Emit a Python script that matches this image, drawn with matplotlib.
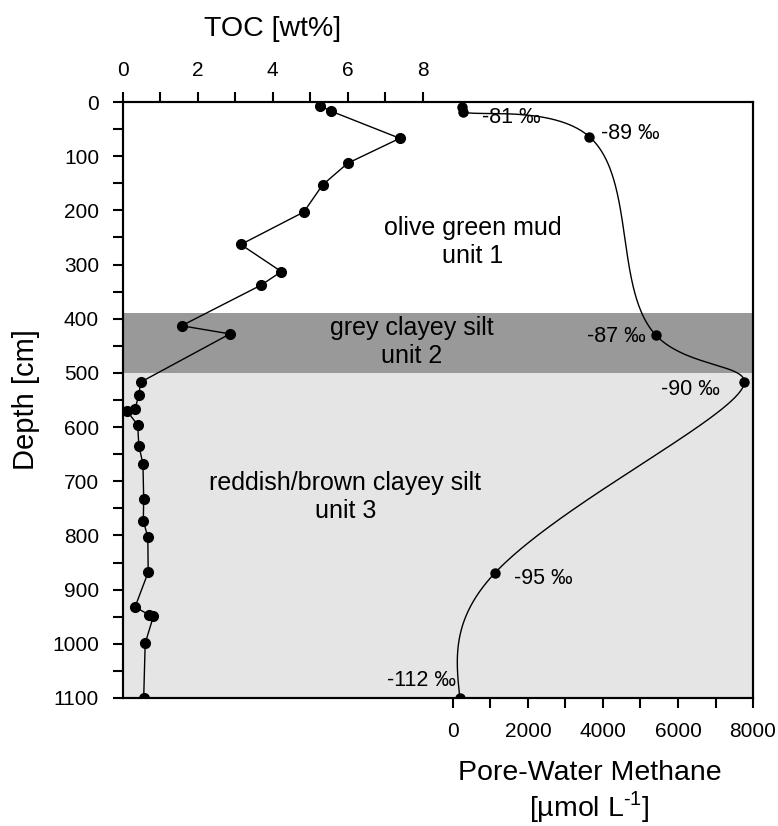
import numpy as np
import matplotlib
matplotlib.use("Agg")
import matplotlib.pyplot as plt

plt.rcParams["font.family"] = ["Liberation Sans", "DejaVu Sans"]
plt.rcParams["mathtext.fontset"] = "custom"
plt.rcParams["mathtext.rm"] = "Liberation Sans"

# TOC profile
toc_depth = [7, 17, 67, 113, 153, 203, 263, 313, 338, 413, 428, 517, 540, 567, 570,
             596, 634, 668, 732, 773, 803, 868, 932, 947, 949, 999, 1100]
toc_value = [5.26, 5.56, 7.39, 6.0, 5.33, 4.83, 3.15, 4.23, 3.69, 1.57, 2.86, 0.48, 0.43,
             0.33, 0.11, 0.40, 0.43, 0.54, 0.56, 0.55, 0.67, 0.68, 0.33, 0.71, 0.82, 0.60, 0.56]

# pore-water methane profile with d13C labels
ch4_depth = [10, 18, 64, 430, 516, 870, 1100]
ch4_value = [232, 275, 3636, 5405, 7769, 1111, 187]

iso_text = ["-81 ‰", "-89 ‰", "-87 ‰", "-90 ‰", "-95 ‰", "-112 ‰"]
iso_x = [765, 3950, 5150, 7120, 1635, 80]
iso_y = [28, 58, 433, 530, 879, 1067]
iso_ha = ["left", "left", "right", "right", "left", "right"]

units = ["olive green mud\nunit 1", "grey clayey silt\nunit 2", "reddish/brown clayey silt\nunit 3"]
unit_x = [0.555, 0.459, 0.353]
unit_y = [258, 443, 729]


def natural_spline(t, y, tt):
    n = len(t)
    h = np.diff(t)
    A = np.zeros((n, n))
    r = np.zeros(n)
    A[0, 0] = A[-1, -1] = 1
    for i in range(1, n - 1):
        A[i, i - 1] = h[i - 1]
        A[i, i] = 2 * (h[i - 1] + h[i])
        A[i, i + 1] = h[i]
        r[i] = 6 * ((y[i + 1] - y[i]) / h[i] - (y[i] - y[i - 1]) / h[i - 1])
    M = np.linalg.solve(A, r)
    out = np.empty_like(tt)
    for k, s in enumerate(tt):
        i = min(np.searchsorted(t, s, side="right") - 1, n - 2)
        a = t[i + 1] - s
        b = s - t[i]
        out[k] = (M[i] * a**3 + M[i + 1] * b**3) / (6 * h[i]) \
            + (y[i] / h[i] - M[i] * h[i] / 6) * a + (y[i + 1] / h[i] - M[i + 1] * h[i] / 6) * b
    return out


# smooth curve through methane points (centripetal spline in screen-like units)
u = np.array(ch4_value) / 1000 * 37.5
v = np.array(ch4_depth) * 0.5418
t = np.concatenate([[0], np.cumsum(np.hypot(np.diff(u), np.diff(v)) ** 0.5)])
tt = np.linspace(0, t[-1], 800)
curve_x = natural_spline(t, u, tt) / 37.5 * 1000
curve_y = natural_spline(t, v, tt) / 0.5418

fig = plt.figure(figsize=(7.78, 8.26), dpi=100)
ax = fig.add_axes([0.1577, 0.155, 0.8102, 0.7215])
ax.axhspan(390, 500, color="#999999", lw=0, zorder=0)
ax.axhspan(500, 1100, color="#e5e5e5", lw=0, zorder=0)

ax.plot(curve_x, curve_y, color="black", lw=1.0)
ax.plot(ch4_value, ch4_depth, "o", color="black", ms=6.5)
for s, x, y, ha in zip(iso_text, iso_x, iso_y, iso_ha):
    ax.text(x, y, s, ha=ha, va="center", fontsize=15.5)

ax.set_xlim(-8800, 8000)
ax.set_ylim(1100, 0)
ax.set_xticks(range(0, 8001, 1000))
ax.set_xticklabels([str(v) if v % 2000 == 0 else "" for v in range(0, 8001, 1000)])
ax.set_yticks(range(0, 1101, 50))
ax.set_yticklabels([str(v) if v % 100 == 0 else "" for v in range(0, 1101, 50)])
ax.tick_params(axis="x", direction="out", length=7, width=1.5, pad=10, labelsize=15)
ax.tick_params(axis="y", direction="out", length=7, width=1.5, pad=10, labelsize=15)
ax.set_ylabel("Depth [cm]", fontsize=21)
ax.yaxis.set_label_coords(-0.131, 0.5)
ax.set_xlabel("Pore-Water Methane\n[µmol L$^{\\text{-1}}$]", fontsize=20.5, linespacing=1.1)
ax.xaxis.set_label_coords(0.741, -0.104)

ax2 = ax.twiny()
ax2.plot(toc_value, toc_depth, "-o", color="black", lw=1.0, ms=7)
ax2.set_xlim(0, 630.3 / 37.5)
ax2.set_xticks(range(0, 9))
ax2.set_xticklabels([str(v) if v % 2 == 0 else "" for v in range(0, 9)])
ax2.tick_params(axis="x", direction="out", length=7, width=1.5, pad=9, labelsize=15)
ax2.set_xlabel("TOC [wt%]", fontsize=20.5)
ax2.xaxis.set_label_coords(0.238, 1.111)

for a in (ax, ax2):
    for sp in a.spines.values():
        sp.set_linewidth(1.5)

for s, x, y in zip(units, unit_x, unit_y):
    ax.text(x, y, s, transform=ax.get_yaxis_transform(), ha="center", va="center",
            fontsize=18, linespacing=1.2)

fig.savefig("out.png", dpi=100)
